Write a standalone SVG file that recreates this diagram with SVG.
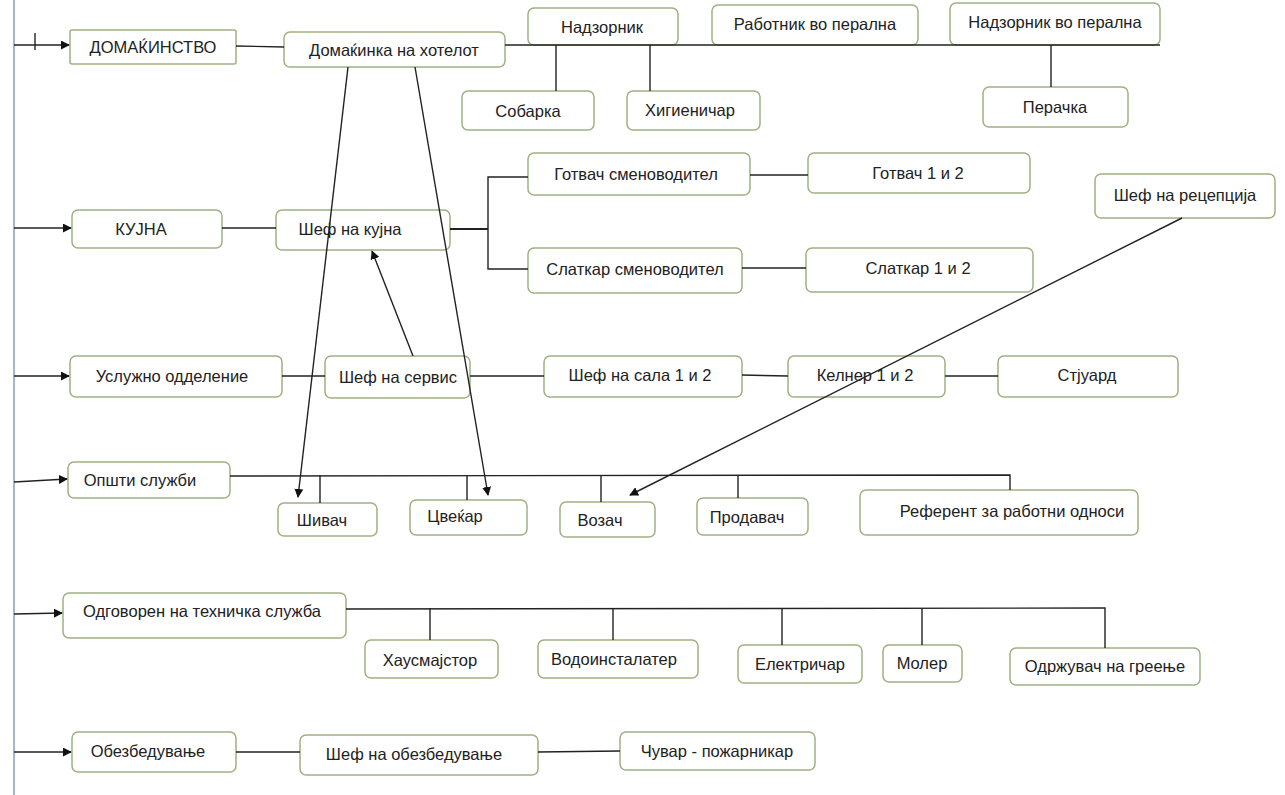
<svg xmlns="http://www.w3.org/2000/svg" width="1285" height="795" viewBox="0 0 1285 795">
<style>
.n rect{fill:#fff;stroke:#9fb182;stroke-width:1.5}
.n text{font-family:"Liberation Sans","DejaVu Sans",sans-serif;font-size:16.5px;fill:#222;text-anchor:middle;dominant-baseline:central}
.c line,.c polyline{stroke:#222;stroke-width:1.4;fill:none}
.c .a{marker-end:url(#ah)}
</style>
<defs>
<marker id="ah" viewBox="0 0 10 10" refX="9" refY="5" markerWidth="9" markerHeight="9" markerUnits="userSpaceOnUse" orient="auto"><path d="M0,0 L10,5 L0,10 z" fill="#111"/></marker>
</defs>
<rect width="1285" height="795" fill="#fff"/>
<line x1="14" y1="0" x2="14" y2="795" stroke="#a7b7c8" stroke-width="2"/>
<g class="n" id="n1"><rect x="70" y="30" width="166" height="34" rx="2"/><text x="153" y="47">ДОМАЌИНСТВО</text></g>
<g class="n" id="n2"><rect x="284" y="32" width="221" height="35" rx="6"/><text x="394" y="50">Домаќинка на хотелот</text></g>
<g class="n" id="n3"><rect x="528" y="8" width="150" height="37" rx="6"/><text x="602" y="27">Надзорник</text></g>
<g class="n" id="n4"><rect x="712" y="5" width="206" height="40" rx="6"/><text x="815" y="24">Работник во перална</text></g>
<g class="n" id="n5"><rect x="950" y="3" width="210" height="42" rx="6"/><text x="1055" y="22">Надзорник во перална</text></g>
<g class="n" id="n6"><rect x="462" y="91" width="132" height="39" rx="6"/><text x="528" y="111">Собарка</text></g>
<g class="n" id="n7"><rect x="627" y="91" width="133" height="39" rx="6"/><text x="690" y="110">Хигиеничар</text></g>
<g class="n" id="n8"><rect x="983" y="87" width="145" height="40" rx="6"/><text x="1055" y="107">Перачка</text></g>
<g class="n" id="n9"><rect x="72" y="210" width="150" height="38" rx="6"/><text x="141" y="229">КУЈНА</text></g>
<g class="n" id="n10"><rect x="276" y="210" width="174" height="40" rx="6"/><text x="350" y="229">Шеф на кујна</text></g>
<g class="n" id="n11"><rect x="528" y="153" width="222" height="42" rx="6"/><text x="636" y="174">Готвач сменоводител</text></g>
<g class="n" id="n12"><rect x="808" y="153" width="222" height="40" rx="6"/><text x="918" y="173">Готвач 1 и 2</text></g>
<g class="n" id="n13"><rect x="528" y="248" width="214" height="45" rx="6"/><text x="635" y="269">Слаткар сменоводител</text></g>
<g class="n" id="n14"><rect x="806" y="248" width="227" height="44" rx="6"/><text x="918" y="268">Слаткар  1 и 2</text></g>
<g class="n" id="n15"><rect x="1095" y="174" width="180" height="44" rx="6"/><text x="1185" y="195">Шеф на рецепција</text></g>
<g class="n" id="n16"><rect x="70" y="356" width="212" height="41" rx="6"/><text x="172" y="376">Услужно одделение</text></g>
<g class="n" id="n17"><rect x="325" y="356" width="145" height="42" rx="6"/><text x="398" y="377">Шеф на сервис</text></g>
<g class="n" id="n18"><rect x="544" y="356" width="198" height="41" rx="6"/><text x="640" y="375">Шеф на сала 1 и 2</text></g>
<g class="n" id="n19"><rect x="788" y="356" width="157" height="41" rx="6"/><text x="865" y="375">Келнер 1 и 2</text></g>
<g class="n" id="n20"><rect x="998" y="356" width="180" height="41" rx="6"/><text x="1087" y="375">Стјуард</text></g>
<g class="n" id="n21"><rect x="68" y="462" width="162" height="36" rx="6"/><text x="140" y="480">Општи служби</text></g>
<g class="n" id="n22"><rect x="278" y="503" width="99" height="33" rx="6"/><text x="322" y="520">Шивач</text></g>
<g class="n" id="n23"><rect x="410" y="500" width="117" height="35" rx="6"/><text x="455" y="516">Цвеќар</text></g>
<g class="n" id="n24"><rect x="560" y="502" width="95" height="35" rx="6"/><text x="600" y="520">Возач</text></g>
<g class="n" id="n25"><rect x="697" y="498" width="111" height="37" rx="6"/><text x="747" y="517">Продавач</text></g>
<g class="n" id="n26"><rect x="860" y="490" width="278" height="45" rx="6"/><text x="1012" y="511">Референт за работни односи</text></g>
<g class="n" id="n27"><rect x="63" y="593" width="283" height="45" rx="6"/><text x="202" y="611">Одговорен на техничка служба</text></g>
<g class="n" id="n28"><rect x="365" y="640" width="133" height="38" rx="6"/><text x="430" y="660">Хаусмајстор</text></g>
<g class="n" id="n29"><rect x="538" y="640" width="160" height="38" rx="6"/><text x="614" y="659">Водоинсталатер</text></g>
<g class="n" id="n30"><rect x="738" y="645" width="124" height="38" rx="6"/><text x="800" y="664">Електричар</text></g>
<g class="n" id="n31"><rect x="883" y="645" width="79" height="37" rx="6"/><text x="922" y="663">Молер</text></g>
<g class="n" id="n32"><rect x="1010" y="648" width="190" height="37" rx="6"/><text x="1105" y="666">Одржувач на греење</text></g>
<g class="n" id="n33"><rect x="72" y="732" width="164" height="40" rx="6"/><text x="148" y="751">Обезбедување</text></g>
<g class="n" id="n34"><rect x="300" y="735" width="238" height="40" rx="6"/><text x="414" y="754">Шеф на обезбедување</text></g>
<g class="n" id="n35"><rect x="620" y="732" width="195" height="38" rx="6"/><text x="717" y="751">Чувар - пожарникар</text></g>
<g class="c" id="connectors">
<line class="a" x1="14" y1="45" x2="69" y2="45"/>
<line x1="35" y1="33" x2="35" y2="50"/>
<line x1="236" y1="46" x2="284" y2="47"/>
<line x1="505" y1="45" x2="1160" y2="45"/>
<line x1="556" y1="45" x2="556" y2="91"/>
<line x1="650" y1="45" x2="650" y2="91"/>
<line x1="1051" y1="45" x2="1051" y2="87"/>
<line class="a" x1="14" y1="228" x2="71" y2="228"/>
<line x1="222" y1="228" x2="276" y2="228"/>
<line x1="450" y1="229" x2="488" y2="229" style="stroke-width:2.2"/>
<polyline points="528,177 488,177 488,269 528,269"/>
<line x1="750" y1="175" x2="808" y2="175"/>
<line x1="742" y1="268" x2="806" y2="268"/>
<line class="a" x1="14" y1="376" x2="69" y2="376"/>
<line x1="282" y1="376" x2="325" y2="376"/>
<line x1="470" y1="376" x2="544" y2="376"/>
<line x1="742" y1="375" x2="788" y2="376"/>
<line x1="945" y1="376" x2="998" y2="376"/>
<line class="a" x1="14" y1="482" x2="67" y2="479"/>
<polyline points="230,476 1010,475 1010,490"/>
<line x1="320" y1="475" x2="320" y2="503"/>
<line x1="467" y1="475" x2="467" y2="500"/>
<line x1="601" y1="475" x2="601" y2="502"/>
<line x1="738" y1="475" x2="738" y2="498"/>
<line class="a" x1="348" y1="67" x2="298" y2="497"/>
<line class="a" x1="415" y1="67" x2="488" y2="495"/>
<line class="a" x1="413" y1="356" x2="372" y2="251"/>
<line class="a" x1="1182" y1="218" x2="630" y2="495"/>
<line class="a" x1="14" y1="614" x2="62" y2="613"/>
<polyline points="346,609 1105,608 1105,648"/>
<line x1="430" y1="608" x2="430" y2="640"/>
<line x1="613" y1="608" x2="613" y2="640"/>
<line x1="782" y1="608" x2="782" y2="645"/>
<line x1="922" y1="608" x2="922" y2="645"/>
<line class="a" x1="14" y1="752" x2="71" y2="752"/>
<line x1="236" y1="752" x2="300" y2="752"/>
<line x1="538" y1="752" x2="620" y2="751"/>
</g>
</svg>
